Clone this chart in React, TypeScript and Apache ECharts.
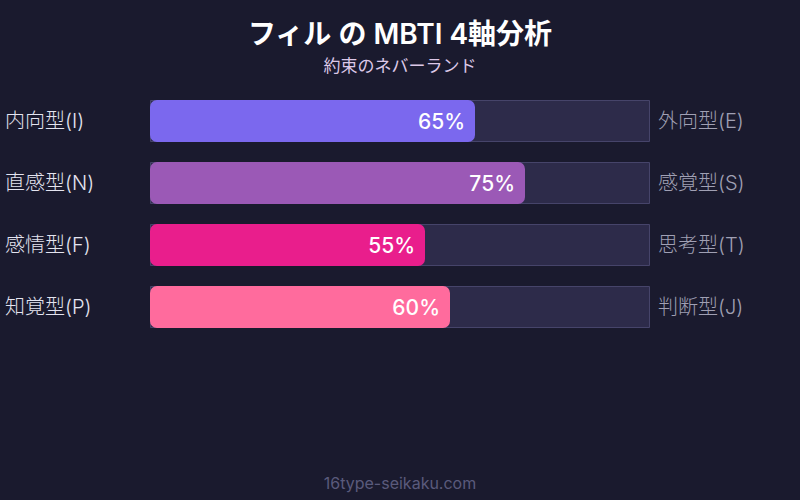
import React, { useEffect, useRef } from 'react';
import * as echarts from 'echarts';

const leftLabels = ['内向型(I)', '直感型(N)', '感情型(F)', '知覚型(P)'];
const rightLabels = ['外向型(E)', '感覚型(S)', '思考型(T)', '判断型(J)'];
const percents = [65, 75, 55, 60];
const barColors = ['#7b68ee', '#9b59b6', '#e91e8c', '#ff6b9d'];
const trackValues = [100, 100, 100, 100];

const FONT = "Inter, 'Noto Sans CJK JP', sans-serif";

const App: React.FC = () => {
  const chartRef = useRef<HTMLDivElement>(null);

  useEffect(() => {
    if (!chartRef.current) return;
    const chart = echarts.init(chartRef.current, undefined, { renderer: 'svg' });

    const option: echarts.EChartsOption = {
      animation: false,
      backgroundColor: '#1a1a2e',
      textStyle: { fontFamily: FONT },
      title: {
        text: 'フィル の MBTI 4軸分析',
        subtext: '約束のネバーランド',
        left: 'center',
        top: 15,
        itemGap: 9,
        textStyle: { color: '#ffffff', fontSize: 28, fontWeight: 600, fontFamily: FONT },
        subtextStyle: { color: '#dcc8e8', fontSize: 17, fontFamily: FONT },
      },
      grid: { left: 150, right: 150, top: 90, bottom: 162 },
      xAxis: {
        type: 'value',
        min: 0,
        max: 100,
        show: false,
      },
      yAxis: [
        {
          type: 'category',
          data: leftLabels,
          inverse: true,
          position: 'left',
          axisLine: { show: false },
          axisTick: { show: false },
          splitLine: { show: false },
          axisLabel: {
            align: 'left',
            margin: 145,
            color: '#e4e4f0',
            fontSize: 20,
            fontWeight: 300,
            fontFamily: FONT,
            padding: [0, 0, 6, 0],
          },
        },
        {
          type: 'category',
          data: rightLabels,
          inverse: true,
          position: 'right',
          axisLine: { show: false },
          axisTick: { show: false },
          splitLine: { show: false },
          axisLabel: {
            align: 'left',
            margin: 8,
            color: '#a0a0b4',
            fontSize: 20,
            fontWeight: 300,
            fontFamily: FONT,
            padding: [0, 0, 6, 0],
          },
        },
      ],
      series: [
        {
          type: 'bar',
          data: trackValues,
          barWidth: 42,
          silent: true,
          itemStyle: { color: '#2d2b4a', borderColor: '#46446a', borderWidth: 1 },
          z: 1,
        },
        {
          type: 'bar',
          data: percents.map((v, i) => ({ value: v, itemStyle: { color: barColors[i] } })),
          barWidth: 42,
          barGap: '-100%',
          itemStyle: { borderRadius: 7 },
          label: {
            show: true,
            position: 'insideRight',
            distance: 10,
            formatter: '{c}%',
            color: '#ffffff',
            fontSize: 21,
            fontWeight: 500,
            fontFamily: FONT,
          },
          z: 2,
        },
      ],
      graphic: [
        {
          type: 'text',
          left: 'center',
          top: 475,
          style: {
            text: '16type-seikaku.com',
            fill: '#5a5a7c',
            fontSize: 16,
            fontFamily: FONT,
          },
        },
      ],
    };

    chart.setOption(option);
    return () => {
      chart.dispose();
    };
  }, []);

  return (
    <div
      ref={chartRef}
      style={{ position: 'fixed', left: 0, top: 0, width: 800, height: 500 }}
    />
  );
};

export default App;
